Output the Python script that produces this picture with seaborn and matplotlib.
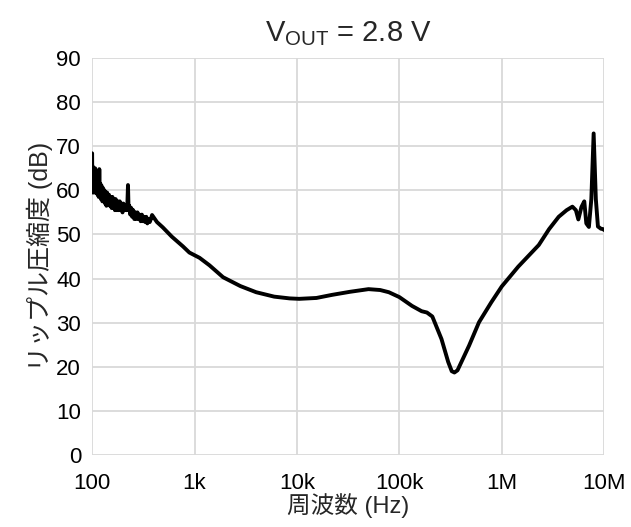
import numpy as np
import pandas as pd
import matplotlib
matplotlib.use("Agg")
import matplotlib.pyplot as plt
import seaborn as sns
from matplotlib.ticker import FixedLocator, FixedFormatter, NullLocator

# ---- data ----
freq_hz = [
    100, 100.5, 101, 102, 103, 104, 105, 106, 107, 108, 109, 110, 111.5, 113,
    114.5, 116, 117.5, 119, 120.5, 122, 124, 126, 128, 130, 132, 134, 136, 138,
    140, 143, 146, 149, 152, 155, 158, 161, 164, 167, 170, 174, 178, 182, 186,
    190, 194, 198, 202, 207, 212, 217, 221, 224, 227, 231, 236, 241, 246, 252,
    258, 264, 270, 277, 284, 291, 298, 306, 314, 322, 330, 338, 346, 355, 365,
    375, 385, 430, 490, 600, 770, 890, 1120, 1400, 1900,
    2800, 4000, 6000, 8500, 10500, 15500, 22000, 33000, 50000, 65000, 79000,
    100000, 133000, 165000, 186000, 210000, 258000, 300000, 325000, 345000,
    370000, 395000, 480000, 600000, 790000, 1000000, 1450000, 2300000, 2900000,
    3600000, 4300000, 4900000, 5300000, 5600000, 6000000, 6400000, 6700000,
    7100000, 7500000, 7900000, 8300000, 8700000, 9300000, 9800000, 10000000,
]
psrr_db = [
    68.4, 59.5, 65.5, 60, 64.5, 59.5, 63.5, 60.5, 65, 59.5, 63, 60, 62.5, 59,
    62, 58.5, 64.8, 59, 61.5, 58, 61, 57.5, 60.5, 57.5, 60, 57, 59.5, 56.5,
    59.5, 57, 59, 56.5, 58.5, 56, 58.5, 56, 58, 55.5, 58, 55.5, 57.5, 55.5, 57.5,
    55.5, 57, 55, 57, 55.5, 56.5, 55.5, 57, 61.2, 55.5, 56.5, 54.5, 56, 54, 55.5,
    53.5, 55, 53.5, 55, 53.5, 54.5, 53, 54.5, 53, 54, 52.8, 54, 52.5, 53.5, 52.8,
    53.5, 54.4, 52.8, 51.6, 49.5, 47.3, 45.9, 44.7, 43.0, 40.3,
    38.3, 36.9, 35.9, 35.5, 35.4, 35.6, 36.3, 37.0, 37.6, 37.4, 36.9,
    35.8, 33.8, 32.6, 32.3, 31.4, 26.3, 21.1, 19.0, 18.7,
    19.2, 20.6, 24.8, 30.1, 34.6, 38.2, 42.7, 47.6, 51.2,
    54.0, 55.5, 56.3, 55.5, 53.4, 56.2, 57.5, 52.5,
    51.7, 58.0, 72.9, 58.0, 51.8, 51.3, 51.2, 51.0,
]

x_ticks = [100, 1e3, 1e4, 1e5, 1e6, 1e7]
x_tick_labels = ["100", "1k", "10k", "100k", "1M", "10M"]
y_ticks = list(range(0, 91, 10))

title_text = r"V$_{\mathrm{OUT}}$ = 2.8 V"
x_label = "周波数 (Hz)"
y_label = "リップル圧縮度 (dB)"

df = pd.DataFrame({"freq": freq_hz, "psrr": psrr_db})

sns.set_style("white")
plt.rcParams["font.family"] = ["Liberation Sans", "Noto Sans CJK JP", "DejaVu Sans"]
plt.rcParams["mathtext.fontset"] = "custom"
plt.rcParams["mathtext.rm"] = "Liberation Sans"
plt.rcParams["mathtext.it"] = "Liberation Sans:italic"
plt.rcParams["mathtext.bf"] = "Liberation Sans:bold"

fig = plt.figure(figsize=(6.31, 5.27), dpi=100)
ax = fig.add_axes([0.146, 1 - 455 / 527, (604 - 92) / 631, (455 - 58) / 527])

sns.lineplot(data=df, x="freq", y="psrr", ax=ax, color="black", linewidth=2.8,
             estimator=None, sort=False, zorder=3)

ax.set_xscale("log")
ax.set_xlim(100, 1e7)
ax.set_ylim(0, 90)
ax.xaxis.set_major_locator(FixedLocator(x_ticks))
ax.xaxis.set_major_formatter(FixedFormatter(x_tick_labels))
ax.xaxis.set_minor_locator(NullLocator())
ax.set_yticks(y_ticks)

ax.grid(True, which="major", color="#d9d9d9", linewidth=1.3)
ax.set_axisbelow(True)
for s in ax.spines.values():
    s.set_visible(False)
ax.tick_params(axis="both", length=0, labelsize=16, colors="black")
ax.tick_params(axis="x", pad=13)
ax.tick_params(axis="y", pad=8)

ax.set_xlabel(x_label, fontsize=17, labelpad=-1)
ax.set_ylabel(y_label, fontsize=18, labelpad=2)
ax.set_title(title_text, fontsize=21, pad=12)

fig.savefig("out.png", dpi=100)
